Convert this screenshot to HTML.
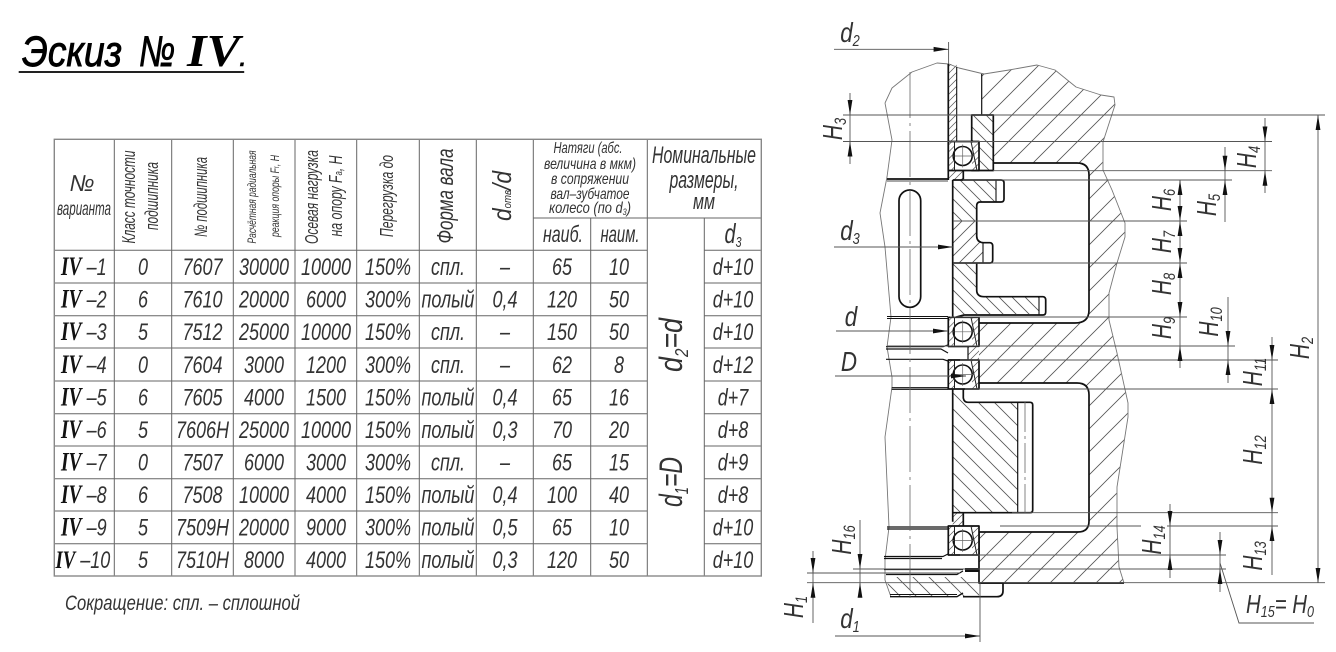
<!DOCTYPE html>
<html><head><meta charset="utf-8"><title>Эскиз № IV</title>
<style>
html,body{margin:0;padding:0;background:#fff}
svg{display:block}
text{font-family:"Liberation Sans","Noto Sans CJK SC",sans-serif;font-style:italic;fill:#333}
.r text{text-anchor:middle;font-size:24px}
.r text.iv{text-anchor:start}
.s{font-family:"Liberation Serif",serif;font-weight:bold;fill:#111}
.m{text-anchor:middle}
.h{font-size:28px;text-anchor:middle}
.t{stroke:#111;stroke-width:1.7;fill:none;stroke-linejoin:round}
.d{stroke:#555;stroke-width:.9;fill:none}
.b{stroke:#777;stroke-width:.9;fill:none;stroke-linejoin:round}
</style></head><body>
<svg width="1336" height="652" viewBox="0 0 1336 652" xmlns="http://www.w3.org/2000/svg">
<defs>
<pattern id="h1" width="23" height="23" patternUnits="userSpaceOnUse"><path d="M-1 24L24 -1M-1 1L1 -1M22 24L24 22" stroke="#555" stroke-width=".8"/></pattern>
<pattern id="g1" width="13" height="13" patternUnits="userSpaceOnUse"><path d="M-1 -1L14 14M12 -1L14 1M-1 12L1 14" stroke="#555" stroke-width=".8"/></pattern>
<pattern id="g2" width="13" height="13" patternUnits="userSpaceOnUse"><path d="M-1 14L14 -1M-1 1L1 -1M12 14L14 12" stroke="#555" stroke-width=".8"/></pattern>
<pattern id="g3" width="16" height="16" patternUnits="userSpaceOnUse"><path d="M-1 -1L17 17M15 -1L17 1M-1 15L1 17" stroke="#555" stroke-width=".8"/></pattern>
<pattern id="f1" width="7" height="7" patternUnits="userSpaceOnUse"><path d="M-1 8L8 -1M-1 1L1 -1M6 8L8 6" stroke="#555" stroke-width=".7"/></pattern>
<polygon id="ad" points="0,0 -2.4,-15 2.4,-15" fill="#111"/>
<polygon id="au" points="0,0 -2.4,15 2.4,15" fill="#111"/>
<polygon id="ar" points="0,0 -15,-2.4 -15,2.4" fill="#111"/>
<g id="bg">
<rect x="948.3" y="0" width="30.7" height="29" fill="#fff"/>
<rect x="948.3" y="0" width="6" height="29" fill="url(#f1)"/>
<rect x="972" y="0" width="7" height="29" fill="url(#f1)"/>
<rect x="948.3" y="0" width="30.7" height="29" class="t"/>
<circle cx="962.7" cy="14.5" r="9.5" fill="#fff" stroke="#111" stroke-width="1.6"/>
<path d="M962.7 3V26M951 14.5H974" stroke="#666" stroke-width=".7"/>
<path d="M954.5 0V29M971 0L977 29" stroke="#222" stroke-width="1"/>
</g>
</defs>

<!-- title -->
<text x="22" y="66" font-size="43" textLength="100" lengthAdjust="spacingAndGlyphs" style="fill:#000;stroke:#000;stroke-width:.9">Эскиз</text>
<text x="139" y="66" font-size="43" textLength="36" lengthAdjust="spacingAndGlyphs" style="fill:#000;stroke:#000;stroke-width:.9">№</text>
<text x="187" y="66" font-size="46" textLength="53" lengthAdjust="spacingAndGlyphs" class="s" style="fill:#000">IV</text>
<text x="239" y="66" font-size="30" style="fill:#000;stroke:#000;stroke-width:.6">.</text>
<rect x="18.7" y="71" width="225.5" height="2" fill="#222"/>

<!-- table lines -->
<g stroke="#666" stroke-width="1" fill="none">
<path d="M54 250.3H647.3M704.3 250.3H761M54 283H647.3M704.3 283H761M54 315.7H647.3M704.3 315.7H761M54 348H647.3M704.3 348H761M54 381H647.3M704.3 381H761M54 413.7H647.3M704.3 413.7H761M54 446H647.3M704.3 446H761M54 478.7H647.3M704.3 478.7H761M54 511H647.3M704.3 511H761M54 543.7H647.3M704.3 543.7H761M533.3 218H761"/>
<path d="M114.3 139V576M171.7 139V576M233.3 139V576M295 139V576M356.7 139V576M419.3 139V576M476.3 139V576M533.3 139V576M590.7 218V576M647.3 139V576M704.3 218V576"/>
<rect x="54.3" y="139.3" width="707" height="436.7" stroke="#888" stroke-width="1.4"/>
</g>

<!-- table head -->
<text x="82" y="191" font-size="23" class="m">№</text>
<text x="84" y="215" font-size="19" class="m" textLength="54" lengthAdjust="spacingAndGlyphs">варианта</text>
<text transform="translate(135,197) rotate(-90)" font-size="18" class="m" textLength="93" lengthAdjust="spacingAndGlyphs">Класс точности</text>
<text transform="translate(158,196) rotate(-90)" font-size="18" class="m" textLength="68" lengthAdjust="spacingAndGlyphs">подшипника</text>
<text transform="translate(207,197) rotate(-90)" font-size="18" class="m" textLength="80" lengthAdjust="spacingAndGlyphs">№ подшипника</text>
<text transform="translate(256,197) rotate(-90)" font-size="12" class="m" textLength="93" lengthAdjust="spacingAndGlyphs">Расчётная радиальная</text>
<text transform="translate(279,196) rotate(-90)" font-size="12" class="m" textLength="82" lengthAdjust="spacingAndGlyphs">реакция опоры F<tspan font-size="8">r</tspan>, H</text>
<text transform="translate(318,197) rotate(-90)" font-size="18" class="m" textLength="94" lengthAdjust="spacingAndGlyphs">Осевая нагрузка</text>
<text transform="translate(342,196) rotate(-90)" font-size="18" class="m" textLength="81" lengthAdjust="spacingAndGlyphs">на опору F<tspan font-size="11">a</tspan>, H</text>
<text transform="translate(393,196) rotate(-90)" font-size="18" class="m" textLength="82" lengthAdjust="spacingAndGlyphs">Перегрузка до</text>
<text transform="translate(453,196) rotate(-90)" font-size="23" class="m" textLength="95" lengthAdjust="spacingAndGlyphs">Форма вала</text>
<text transform="translate(511,196) rotate(-90)" font-size="26" class="m" textLength="50" lengthAdjust="spacingAndGlyphs">d<tspan font-size="11">отв</tspan>/d</text>
<text x="588" y="153" font-size="16" class="m" textLength="69" lengthAdjust="spacingAndGlyphs">Натяги (абс.</text>
<text x="590" y="169" font-size="16" class="m" textLength="92" lengthAdjust="spacingAndGlyphs">величина в мкм)</text>
<text x="590" y="184" font-size="16" class="m" textLength="78" lengthAdjust="spacingAndGlyphs">в сопряжении</text>
<text x="590" y="199" font-size="16" class="m" textLength="79" lengthAdjust="spacingAndGlyphs">вал–зубчатое</text>
<text x="590" y="213" font-size="16" class="m" textLength="82" lengthAdjust="spacingAndGlyphs">колесо (по d<tspan font-size="9" dy="2">3</tspan><tspan dy="-2">)</tspan></text>
<text x="704" y="163" font-size="24" class="m" textLength="104" lengthAdjust="spacingAndGlyphs">Номинальные</text>
<text x="704" y="188" font-size="24" class="m" textLength="69" lengthAdjust="spacingAndGlyphs">размеры,</text>
<text x="704" y="209" font-size="22" class="m" textLength="22" lengthAdjust="spacingAndGlyphs">мм</text>
<text x="563" y="242" font-size="23" class="m" textLength="40" lengthAdjust="spacingAndGlyphs">наиб.</text>
<text x="620" y="242" font-size="23" class="m" textLength="39" lengthAdjust="spacingAndGlyphs">наим.</text>
<text x="733" y="243" font-size="28" class="m" textLength="17" lengthAdjust="spacingAndGlyphs">d<tspan font-size="15" dy="4">3</tspan></text>

<!-- table rows -->
<g class="r" transform="scale(.75,1)">
<g transform="translate(0,275)"><text class="iv" x="81.3"><tspan class="s" font-size="26">IV</tspan> –1</text><text x="190.7">0</text><text x="270">7607</text><text x="352">30000</text><text x="434.7">10000</text><text x="517.3">150%</text><text x="597.3" font-size="22">спл.</text><text x="673.3">–</text><text x="749.3">65</text><text x="825.3">10</text><text x="977.3">d+10</text></g>
<g transform="translate(0,307.6)"><text class="iv" x="81.3"><tspan class="s" font-size="26">IV</tspan> –2</text><text x="190.7">6</text><text x="270">7610</text><text x="352">20000</text><text x="434.7">6000</text><text x="517.3">300%</text><text x="597.3" font-size="22">полый</text><text x="673.3">0,4</text><text x="749.3">120</text><text x="825.3">50</text><text x="977.3">d+10</text></g>
<g transform="translate(0,340)"><text class="iv" x="81.3"><tspan class="s" font-size="26">IV</tspan> –3</text><text x="190.7">5</text><text x="270">7512</text><text x="352">25000</text><text x="434.7">10000</text><text x="517.3">150%</text><text x="597.3" font-size="22">спл.</text><text x="673.3">–</text><text x="749.3">150</text><text x="825.3">50</text><text x="977.3">d+10</text></g>
<g transform="translate(0,373)"><text class="iv" x="81.3"><tspan class="s" font-size="26">IV</tspan> –4</text><text x="190.7">0</text><text x="270">7604</text><text x="352">3000</text><text x="434.7">1200</text><text x="517.3">300%</text><text x="597.3" font-size="22">спл.</text><text x="673.3">–</text><text x="749.3">62</text><text x="825.3">8</text><text x="977.3">d+12</text></g>
<g transform="translate(0,405.5)"><text class="iv" x="81.3"><tspan class="s" font-size="26">IV</tspan> –5</text><text x="190.7">6</text><text x="270">7605</text><text x="352">4000</text><text x="434.7">1500</text><text x="517.3">150%</text><text x="597.3" font-size="22">полый</text><text x="673.3">0,4</text><text x="749.3">65</text><text x="825.3">16</text><text x="977.3">d+7</text></g>
<g transform="translate(0,438)"><text class="iv" x="81.3"><tspan class="s" font-size="26">IV</tspan> –6</text><text x="190.7">5</text><text x="270">7606H</text><text x="352">25000</text><text x="434.7">10000</text><text x="517.3">150%</text><text x="597.3" font-size="22">полый</text><text x="673.3">0,3</text><text x="749.3">70</text><text x="825.3">20</text><text x="977.3">d+8</text></g>
<g transform="translate(0,470.7)"><text class="iv" x="81.3"><tspan class="s" font-size="26">IV</tspan> –7</text><text x="190.7">0</text><text x="270">7507</text><text x="352">6000</text><text x="434.7">3000</text><text x="517.3">300%</text><text x="597.3" font-size="22">спл.</text><text x="673.3">–</text><text x="749.3">65</text><text x="825.3">15</text><text x="977.3">d+9</text></g>
<g transform="translate(0,503)"><text class="iv" x="81.3"><tspan class="s" font-size="26">IV</tspan> –8</text><text x="190.7">6</text><text x="270">7508</text><text x="352">10000</text><text x="434.7">4000</text><text x="517.3">150%</text><text x="597.3" font-size="22">полый</text><text x="673.3">0,4</text><text x="749.3">100</text><text x="825.3">40</text><text x="977.3">d+8</text></g>
<g transform="translate(0,535.7)"><text class="iv" x="81.3"><tspan class="s" font-size="26">IV</tspan> –9</text><text x="190.7">5</text><text x="270">7509H</text><text x="352">20000</text><text x="434.7">9000</text><text x="517.3">300%</text><text x="597.3" font-size="22">полый</text><text x="673.3">0,5</text><text x="749.3">65</text><text x="825.3">10</text><text x="977.3">d+10</text></g>
<g transform="translate(0,568)"><text class="iv" x="74"><tspan class="s" font-size="25">IV</tspan> –10</text><text x="190.7">5</text><text x="270">7510H</text><text x="352">8000</text><text x="434.7">4000</text><text x="517.3">150%</text><text x="597.3" font-size="22">полый</text><text x="673.3">0,3</text><text x="749.3">120</text><text x="825.3">50</text><text x="977.3">d+10</text></g>
</g>
<text transform="translate(682,345) rotate(-90)" font-size="32" class="m" textLength="54" lengthAdjust="spacingAndGlyphs">d<tspan font-size="18" dy="6">2</tspan><tspan dy="-6">=d</tspan></text>
<text transform="translate(682,482) rotate(-90)" font-size="32" class="m" textLength="50" lengthAdjust="spacingAndGlyphs">d<tspan font-size="18" dy="6">1</tspan><tspan dy="-6">=D</tspan></text>
<text x="65" y="610" font-size="21" textLength="235" lengthAdjust="spacingAndGlyphs">Сокращение: спл. – сплошной</text>

<!-- hatched areas -->
<path fill="url(#h1)" d="M981.7 74L1009 70L1037 65L1055 70L1076 87L1101 95L1114 97L1115 105L1103 142L1103 170L1112 190L1125 223L1125 237L1117 263L1109 293L1109 320L1117 353L1128 403L1128 417L1117 487L1117 527L1119 567L1124 583H979V532H1078Q1089 532 1089 521V395Q1089 383 1077 383H979V323H1075Q1089 323 1089 310V175Q1089 163 1077 163H993.3V115H981.7Z"/>
<rect x="948.3" y="64" width="8.4" height="77" fill="url(#f1)"/>
<rect x="971.7" y="115" width="21.6" height="55" fill="url(#g1)"/>
<path fill="url(#f1)" d="M948.3 170H963.3V180H948.3ZM952.7 512.7H963.3V526H952.7ZM968 346.7H979V360H968Z"/>
<path fill="url(#g1)" d="M952.7 180H996V202H976.7V221H952.7Z"/>
<path fill="url(#g2)" d="M952.7 221H976.7V238L983 243V263H952.7Z"/>
<path fill="url(#g1)" d="M952.7 263H976.7V292L980 297H1039V314H963L952.7 318Z"/>
<path fill="url(#g3)" d="M952.7 389H963.3V398L968 402.3H1017.7V512.7H952.7Z"/>
<path fill="url(#g3)" d="M886 577H963L979 583V597H891Z"/>

<!-- break lines -->
<polyline class="b" points="885,103 892,88 912,72 937,63 949,64 959,68 984,74 1009,70 1037,65 1055,70 1076,87 1101,95 1114,97 1115,105 1103,142 1103,170 1112,190 1125,223 1125,237 1117,263 1109,293 1109,320 1117,353 1128,403 1128,417 1117,487 1117,527 1119,567 1124,583"/>
<polyline class="b" points="885,103 892,140 887,177 880,213 885,247 891,317 887,347 892,377 892,387 885,437 889,527 885,560 885,580 891,597"/>

<!-- solid parts -->
<g class="t">
<path d="M948.3 64V180M887 179H948.3" />
<path d="M887 181H948" stroke-width=".8"/>
<path d="M956.7 67V141" stroke-width="1.1"/>
<path d="M981.7 74V115" stroke-width="1.2"/>
<rect x="971.7" y="115" width="21.6" height="55.5"/>
<path d="M963.3 170.5V180"/>
<path d="M993.3 163H1077Q1089 163 1089 175V310Q1089 323 1075 323H979"/>
<path d="M979 383H1077Q1089 383 1089 395V521Q1089 532 1078 532H979V583H1124"/>
<path d="M952.7 180V318"/>
<path d="M952.7 180H1001Q1004 180 1004 183V199Q1004 202 1001 202H980Q976.7 202 976.7 206V236Q976.7 242 983 242.7H990Q992.7 243 992.7 246V260Q992.7 263 990 263H952.7"/>
<path d="M976.7 263V290Q976.7 296.7 984 296.7H1043Q1045.7 297 1045.7 300V312Q1045.7 315 1043 315H964L953 318"/>
<path d="M996 180V202M1039 297V315M983 243V263" stroke-width="1.1"/>
<path d="M952.7 221H976.7" stroke-width="1.1"/>
<rect x="899" y="190" width="21.7" height="117.3" rx="10.8"/>
<path d="M887 316.5H948M887 318.5H948" stroke-width="1.1"/>
<path d="M886 346.7H943L948 345M886 359.3H943L948 361M886 349H941L948 353" stroke-width="1.2"/>
<path d="M948 346.7H968V360H948" stroke-width="1.2"/>
<path d="M891.7 387.7H948M891.7 389.3H948" stroke-width="1.2"/>
<path d="M952.7 389V521.7"/>
<path d="M963.3 389V398Q964 402.3 968 402.3H1030Q1032.7 402.3 1032.7 405V510Q1032.7 512.7 1030 512.7H952.7"/>
<path d="M1017.7 402.3V512.7" stroke-width="1.2"/>
<path d="M963.3 512.7V526"/>
<path d="M887 527H948M887 529H948" stroke-width="1.2"/>
<path d="M884 556.5H943L948 554M884 558.5H942" stroke-width="1.2"/>
<path d="M884 569.5H963M886 574.5H957L963 571" stroke-width="1.2"/>
<path d="M965 570H979" stroke-width="4"/>
<path d="M890 596.7H957L963 593" stroke-width="1.4"/>
<path d="M890 594.5H957" stroke-width="1"/>
<path d="M979 583H1003V591Q1003 596.7 997 596.7H963"/>
</g>
<use href="#bg" y="141.5"/>
<use href="#bg" y="317.3"/>
<use href="#bg" y="360"/>
<use href="#bg" y="526"/>

<!-- centre lines -->
<path d="M910 72V600" stroke="#666" stroke-width=".8" stroke-dasharray="46 5 3 5" fill="none"/>
<path d="M1025 402V513" stroke="#666" stroke-width=".8" stroke-dasharray="30 4 3 4" fill="none"/>

<!-- dimension lines -->
<g class="d">
<path d="M843 115H1325M843 141.5H1272M993 170.7H1272M963 180H1232M953 221H1187M953 263H1187M950 317H1187M887 346H1235M960 360H1278M965 389H1278M1012 512.7H1278M1000 526H1141M1167 526H1278M960 555H1226M853 569H1226M807 573H960M807 582.7H1325"/>
<path d="M1318 115V583M1265 118V193M1225 147V222M850 93V164M1180 180V368M1228 297V383M1272 337V575M1170 504V578M1220 532V592M860 520V597M813 551V623"/>
<path d="M1220 563L1239 623H1314"/>
<path d="M834 49.3H948.6M948.6 42V64M834 247H953M836 331H948M835 376H966M835 636H980M980 583V642"/>
</g>
<use href="#ar" x="948.6" y="49.3"/><use href="#ar" x="953" y="247"/><use href="#ar" x="948" y="331"/><use href="#ar" x="966" y="376"/><use href="#ar" x="980" y="636"/>
<use href="#au" x="1318" y="115"/><use href="#ad" x="1318" y="583"/>
<use href="#ad" x="1265" y="141.5"/><use href="#au" x="1265" y="170.7"/>
<use href="#ad" x="1225" y="170.7"/><use href="#au" x="1225" y="180"/>
<use href="#ad" x="850" y="115"/><use href="#au" x="850" y="141.5"/>
<use href="#au" x="1180" y="180"/><use href="#ad" x="1180" y="221"/><use href="#au" x="1180" y="221"/><use href="#ad" x="1180" y="263"/><use href="#au" x="1180" y="263"/><use href="#ad" x="1180" y="317"/><use href="#au" x="1180" y="346"/>
<use href="#ad" x="1228" y="346"/><use href="#au" x="1228" y="360"/>
<use href="#ad" x="1272" y="360"/><use href="#au" x="1272" y="389"/><use href="#ad" x="1272" y="512.7"/><use href="#au" x="1272" y="526"/>
<use href="#ad" x="1170" y="526"/><use href="#au" x="1170" y="555"/>
<use href="#ad" x="1220" y="555"/><use href="#au" x="1220" y="569"/>
<use href="#ad" x="860" y="569"/><use href="#au" x="860" y="582.7"/>
<use href="#ad" x="813" y="573"/><use href="#au" x="813" y="582.7"/>

<!-- dimension labels -->
<g>
<text class="h" transform="translate(850,42) scale(.8,1)">d<tspan font-size="16" dy="4">2</tspan></text>
<text class="h" transform="translate(850,240) scale(.8,1)">d<tspan font-size="16" dy="4">3</tspan></text>
<text class="h" transform="translate(851,326) scale(.8,1)">d</text>
<text class="h" transform="translate(849,371) scale(.8,1)">D</text>
<text class="h" transform="translate(850,628) scale(.8,1)">d<tspan font-size="16" dy="4">1</tspan></text>
<text class="h" transform="translate(842,129) rotate(-90) scale(.75,1)">H<tspan font-size="17" dy="4">3</tspan></text>
<text class="h" transform="translate(1256,157) rotate(-90) scale(.75,1)">H<tspan font-size="17" dy="4">4</tspan></text>
<text class="h" transform="translate(1216,205) rotate(-90) scale(.75,1)">H<tspan font-size="17" dy="4">5</tspan></text>
<text class="h" transform="translate(1171,200) rotate(-90) scale(.75,1)">H<tspan font-size="17" dy="4">6</tspan></text>
<text class="h" transform="translate(1171,242) rotate(-90) scale(.75,1)">H<tspan font-size="17" dy="4">7</tspan></text>
<text class="h" transform="translate(1171,284) rotate(-90) scale(.75,1)">H<tspan font-size="17" dy="4">8</tspan></text>
<text class="h" transform="translate(1171,328) rotate(-90) scale(.75,1)">H<tspan font-size="17" dy="4">9</tspan></text>
<text class="h" transform="translate(1218,322) rotate(-90) scale(.75,1)">H<tspan font-size="17" dy="4">10</tspan></text>
<text class="h" transform="translate(1262,372) rotate(-90) scale(.75,1)">H<tspan font-size="17" dy="4">11</tspan></text>
<text class="h" transform="translate(1262,450) rotate(-90) scale(.75,1)">H<tspan font-size="17" dy="4">12</tspan></text>
<text class="h" transform="translate(1262,556) rotate(-90) scale(.75,1)">H<tspan font-size="17" dy="4">13</tspan></text>
<text class="h" transform="translate(1161,540) rotate(-90) scale(.75,1)">H<tspan font-size="17" dy="4">14</tspan></text>
<text class="h" transform="translate(851,540) rotate(-90) scale(.75,1)">H<tspan font-size="17" dy="4">16</tspan></text>
<text class="h" transform="translate(803,607) rotate(-90) scale(.75,1)">H<tspan font-size="17" dy="4">1</tspan></text>
<text class="h" transform="translate(1309,348) rotate(-90) scale(.75,1)">H<tspan font-size="17" dy="4">2</tspan></text>
<text x="1246" y="613" font-size="26" textLength="68" lengthAdjust="spacingAndGlyphs">H<tspan font-size="16" dy="4">15</tspan><tspan dy="-4">= H</tspan><tspan font-size="16" dy="4">0</tspan></text>
</g>
</svg>
</body></html>
